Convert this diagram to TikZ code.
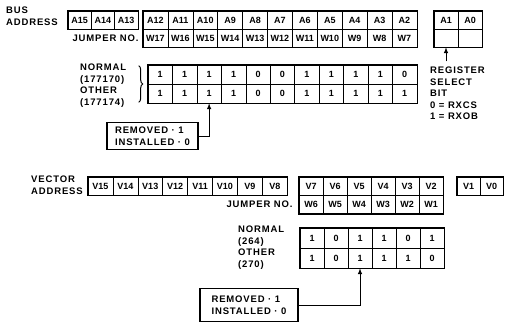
\documentclass[tikz,border=0pt]{standalone}
\usepackage{fontspec}
\setmainfont{Liberation Sans}
\newfontfamily\spaced{Liberation Sans}[LetterSpace=9]
\usetikzlibrary{positioning,decorations.pathreplacing}

\newcommand{\cellfont}{\fontsize{9}{10}\selectfont\bfseries}
\newcommand{\lblfont}{\fontsize{9.5}{11.5}\selectfont\bfseries\spaced}
\tikzstyle{cell} = [draw, line width=0.6pt, minimum height=18pt, inner sep=0pt, font=\cellfont]
\tikzstyle{frame} = [draw, line width=1.4pt]
\tikzstyle{txt} = [align=left, anchor=north west, inner sep=0pt, font=\lblfont]
\tikzstyle{notebox} = [draw, line width=1.3pt, align=left, inner sep=0pt, font=\lblfont]
\tikzstyle{edge} = [draw, line width=1pt, -latex]

\begin{document}
\begin{tikzpicture}[x=1pt, y=1pt]
   \useasboundingbox (0,0) rectangle (505,-325);

   % bus address
   \node[txt] (busaddr) at (6,-7) {BUS\\ADDRESS};
   \foreach \t [count=\i] in {A15,A14,A13}
      \node[cell, minimum width=23.3pt] (h\i) at ({68+23.3*(\i-0.5)},-20) {\t};
   \foreach \t [count=\i] in {A12,A11,A10,A9,A8,A7,A6,A5,A4,A3,A2}
      \node[cell, minimum width=24.9pt] (a\i) at ({143+24.9*(\i-0.5)},-20) {\t};
   \foreach \t [count=\i] in {W17,W16,W15,W14,W13,W12,W11,W10,W9,W8,W7}
      \node[cell, minimum width=24.9pt] (j\i) at ({143+24.9*(\i-0.5)},-38) {\t};
   \foreach \t [count=\i] in {A1,A0} {
      \node[cell, minimum width=24pt] (r\i) at ({434+24*(\i-0.5)},-20) {\t};
      \node[cell, minimum width=24pt] (s\i) at ({434+24*(\i-0.5)},-38) {};
   }
   \draw[frame] (h1.north west) rectangle (h3.south east);
   \draw[frame] (a1.north west) rectangle (j11.south east);
   \draw[frame] (r1.north west) rectangle (s2.south east);
   \node[txt, anchor=east] (jump1) at ([xshift=-4pt]j1.west) {JUMPER NO.};

   % normal / other bus settings
   \foreach \t [count=\i] in {1,1,1,1,0,0,1,1,1,1,0}
      \node[cell, minimum width=24.45pt, minimum height=19pt] (n\i) at ({148+24.45*(\i-0.5)},-74.5) {\t};
   \foreach \t [count=\i] in {1,1,1,1,0,0,1,1,1,1,1}
      \node[cell, minimum width=24.45pt, minimum height=19pt] (o\i) at ({148+24.45*(\i-0.5)},-93.5) {\t};
   \draw[frame] (n1.north west) rectangle (o11.south east);
   \node[txt] (busset) at (80,-64) {NORMAL\\(177170)\\OTHER\\(177174)};
   \draw[line width=1pt, decorate, decoration={brace, amplitude=4pt}]
      ([xshift=-9pt, yshift=-1pt]n1.north west) -- ([xshift=-9pt, yshift=1pt]o1.south west);

   \node[txt] (regsel) at (430,-67) {REGISTER\\SELECT\\BIT\\0 = RXCS\\1 = RXOB};
   \coordinate (regtail) at ([yshift=-14pt]s1.south);
   \draw[edge] (regtail) -- (s1.south);

   \node[notebox, minimum width=91pt, minimum height=27pt] (rem1) at (152.5,-136) {REMOVED · 1\\INSTALLED · 0};
   \draw[edge] (rem1.east) -| (o3.south);

   % vector address
   \node[txt] (vecaddr) at (31,-176) {VECTOR\\ADDRESS};
   \foreach \t [count=\i] in {V15,V14,V13,V12,V11,V10,V9,V8}
      \node[cell, minimum width=24.9pt] (v\i) at ({88+24.9*(\i-0.5)},-186) {\t};
   \foreach \t [count=\i] in {V7,V6,V5,V4,V3,V2}
      \node[cell, minimum width=24pt] (u\i) at ({299+24*(\i-0.5)},-186) {\t};
   \foreach \t [count=\i] in {W6,W5,W4,W3,W2,W1}
      \node[cell, minimum width=24pt] (w\i) at ({299+24*(\i-0.5)},-204.5) {\t};
   \foreach \t [count=\i] in {V1,V0}
      \node[cell, minimum width=23pt] (z\i) at ({457+23*(\i-0.5)},-186) {\t};
   \draw[frame] (v1.north west) rectangle (v8.south east);
   \draw[frame] (u1.north west) rectangle (w6.south east);
   \draw[frame] (z1.north west) rectangle (z2.south east);
   \node[txt, anchor=east] (jump2) at ([xshift=-6pt]w1.west) {JUMPER NO.};

   % normal / other vector settings
   \foreach \t [count=\i] in {1,0,1,1,0,1}
      \node[cell, minimum width=24pt, minimum height=20pt] (p\i) at ({300+24*(\i-0.5)},-238) {\t};
   \foreach \t [count=\i] in {1,0,1,1,1,0}
      \node[cell, minimum width=24pt, minimum height=20pt] (q\i) at ({300+24*(\i-0.5)},-258) {\t};
   \draw[frame] (p1.north west) rectangle (q6.south east);
   \node[txt] (vecset) at (238,-226) {NORMAL\\(264)\\OTHER\\(270)};

   \node[notebox, minimum width=98pt, minimum height=33pt] (rem2) at (249,-305) {REMOVED · 1\\INSTALLED · 0};
   \draw[edge] (rem2.east) -| (q3.south);
\end{tikzpicture}
\end{document}
